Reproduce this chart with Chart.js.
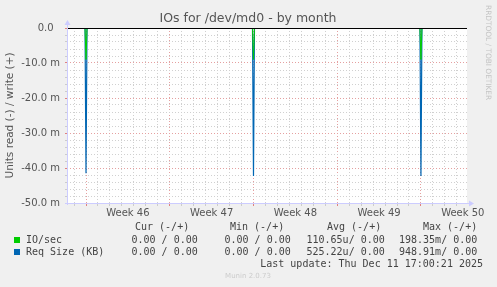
<!DOCTYPE html>
<html>
<head>
<meta charset="utf-8">
<script src="https://cdn.jsdelivr.net/npm/chart.js@4/dist/chart.umd.min.js"></script>
<style>
  html, body { margin: 0; padding: 0; background: #f0f0f0; }
  #wrap { width: 497px; height: 287px; }
</style>
</head>
<body>
<div id="wrap"><canvas id="io-chart" width="497" height="287"></canvas></div>
<script>
// x in days, 0 = start of week 46
const X_MIN = -1.59;
const X_MAX = 31.85;
const weekStarts = [0, 7, 14, 21, 28];
const weekLabels = ["Week 46", "Week 47", "Week 48", "Week 49", "Week 50"];
const SAMPLE = 1 / 12; // 2h step of the month graph

// read spikes (negative side), in milli-units
const spikeDays = [0, 14, 28];
const ioRead = [-9.0, -9.0, -9.0];
const reqRead = [-41.5, -42.3, -42.3];

const legendRows = [
  { label: "IO/sec", color: "#00cc00", cur: "0.00 / 0.00", min: "0.00 / 0.00", avg: "110.65u/ 0.00", max: "198.35m/ 0.00" },
  { label: "Req Size (KB)", color: "#0066b3", cur: "0.00 / 0.00", min: "0.00 / 0.00", avg: "525.22u/ 0.00", max: "948.91m/ 0.00" },
];
const lastUpdate = "Last update: Thu Dec 11 17:00:21 2025";

function spikeSeries(values) {
  const pts = [{ x: X_MIN, y: 0 }];
  spikeDays.forEach((d, i) => {
    pts.push({ x: d - SAMPLE, y: 0 });
    pts.push({ x: d, y: values[i] });
    pts.push({ x: d + SAMPLE, y: 0 });
  });
  pts.push({ x: X_MAX, y: 0 });
  return pts;
}

const MONO = "10px 'DejaVu Sans Mono'";
const SANS = "'DejaVu Sans'";

const munin = {
  id: "munin",
  beforeDraw(chart) {
    const { ctx, chartArea: a } = chart;
    ctx.save();
    ctx.fillStyle = "#f0f0f0";
    ctx.fillRect(0, 0, chart.width, chart.height);
    ctx.fillStyle = "#ffffff";
    ctx.fillRect(a.left, a.top, a.right - a.left, a.bottom - a.top);
    ctx.restore();
  },
  afterDatasetsDraw(chart) {
    const { ctx, chartArea: a, scales } = chart;
    ctx.save();
    // zero line
    const y0 = Math.round(scales.y.getPixelForValue(0)) + 0.5;
    ctx.strokeStyle = "#000000";
    ctx.lineWidth = 1;
    ctx.beginPath();
    ctx.moveTo(a.left, y0);
    ctx.lineTo(a.right, y0);
    ctx.stroke();
    // axis lines + arrows
    ctx.strokeStyle = "#ccccff";
    ctx.fillStyle = "#ccccff";
    ctx.beginPath();
    ctx.moveTo(a.left + 0.5, a.bottom + 2);
    ctx.lineTo(a.left + 0.5, a.top - 4);
    ctx.moveTo(a.left - 2, a.bottom + 0.5);
    ctx.lineTo(a.right + 3, a.bottom + 0.5);
    ctx.stroke();
    ctx.beginPath();
    ctx.moveTo(a.left - 2.5, a.top - 3);
    ctx.lineTo(a.left + 3.5, a.top - 3);
    ctx.lineTo(a.left + 0.5, a.top - 8);
    ctx.closePath();
    ctx.fill();
    ctx.beginPath();
    ctx.moveTo(a.right + 2, a.bottom - 2.5);
    ctx.lineTo(a.right + 2, a.bottom + 3.5);
    ctx.lineTo(a.right + 7, a.bottom + 0.5);
    ctx.closePath();
    ctx.fill();
    ctx.restore();
  },
  afterDraw(chart) {
    const { ctx } = chart;
    ctx.save();
    // title
    ctx.fillStyle = "#555555";
    ctx.font = `12.5px ${SANS}`;
    ctx.textAlign = "center";
    ctx.textBaseline = "middle";
    ctx.fillText("IOs for /dev/md0 - by month", 248, 19);
    // rrdtool credit
    ctx.save();
    ctx.translate(488, 5);
    ctx.rotate(Math.PI / 2);
    ctx.fillStyle = "#c4c4c4";
    ctx.font = `7.4px ${SANS}`;
    ctx.textAlign = "left";
    ctx.fillText("RRDTOOL / TOBI OETIKER", 0, 0);
    ctx.restore();
    // legend
    ctx.font = MONO;
    ctx.textAlign = "left";
    ctx.fillStyle = "#444444";
    ctx.fillText("Cur (-/+)", 135, 227);
    ctx.fillText("Min (-/+)", 230, 227);
    ctx.fillText("Avg (-/+)", 327, 227);
    ctx.fillText("Max (-/+)", 423, 227);
    legendRows.forEach((r, i) => {
      const y = 240 + i * 12;
      ctx.fillStyle = r.color;
      ctx.fillRect(14, y - 3, 6, 6);
      ctx.fillStyle = "#444444";
      ctx.fillText(r.label, 26, y);
      ctx.fillText(r.cur, 131.5, y);
      ctx.fillText(r.min, 224.5, y);
      ctx.fillText(r.avg, 306.5, y);
      ctx.fillText(r.max, 399, y);
    });
    ctx.textAlign = "right";
    ctx.fillText(lastUpdate, 483, 264);
    ctx.textAlign = "center";
    ctx.fillStyle = "#cccccc";
    ctx.font = `7px ${SANS}`;
    ctx.fillText("Munin 2.0.73", 248, 276);
    ctx.restore();
  },
};

const isWeek = (v) => Math.abs(v / 7 - Math.round(v / 7)) < 1e-6;
const isDay = (v) => Math.abs(v - Math.round(v)) < 1e-6;
const isMajorY = (v) => Math.abs(v / 10 - Math.round(v / 10)) < 1e-6;

new Chart(document.getElementById("io-chart"), {
  type: "line",
  data: {
    datasets: [
      { label: "IO/sec", data: spikeSeries(ioRead), borderColor: "#00cc00", borderWidth: 1, pointRadius: 0, tension: 0 },
      { label: "Req Size (KB)", data: spikeSeries(reqRead), borderColor: "#0066b3", borderWidth: 1.2, pointRadius: 0, tension: 0 },
    ],
  },
  options: {
    responsive: false,
    devicePixelRatio: 1,
    animation: false,
    layout: { padding: { left: 0, right: 30, top: 28, bottom: 68 } },
    plugins: { legend: { display: false }, tooltip: { enabled: false }, title: { display: false } },
    scales: {
      x: {
        type: "linear",
        min: X_MIN,
        max: X_MAX,
        afterFit: (s) => { s.height = 16; s.paddingLeft = 0; s.paddingRight = 0; },
        afterBuildTicks: (s) => {
          const ticks = [];
          for (let d = Math.ceil(X_MIN); d <= Math.floor(X_MAX); d++) ticks.push({ value: d });
          weekStarts.forEach((w) => { if (w + 3.5 < X_MAX) ticks.push({ value: w + 3.5 }); });
          ticks.sort((p, q) => p.value - q.value);
          s.ticks = ticks;
        },
        ticks: {
          autoSkip: false,
          maxRotation: 0,
          padding: 1,
          color: "#555555",
          font: { family: "DejaVu Sans", size: 10 },
          callback: (v) => {
            if (isDay(v)) return "";
            const i = weekStarts.indexOf(Math.round(v - 3.5));
            return i >= 0 ? weekLabels[i] : "";
          },
        },
        grid: {
          color: (c) => {
            const v = c.tick ? c.tick.value : 0;
            if (!isDay(v)) return "rgba(0,0,0,0)";
            return isWeek(v) ? "#e5a0a0" : "#d0d0d0";
          },
          tickColor: (c) => {
            const v = c.tick ? c.tick.value : 0;
            if (!isDay(v)) return "rgba(0,0,0,0)";
            return isWeek(v) ? "#e08080" : "#cccccc";
          },
          tickLength: 3,
          lineWidth: 1,
        },
        border: { display: false, dash: [1, 2] },
      },
      y: {
        min: -50,
        max: 0,
        afterFit: (s) => { s.width = 67; },
        afterBuildTicks: (s) => {
          const ticks = [];
          for (let v = -50; v <= 0; v += 2) ticks.push({ value: v });
          s.ticks = ticks;
        },
        ticks: {
          autoSkip: false,
          padding: 5,
          color: "#555555",
          font: { family: "DejaVu Sans", size: 10 },
          callback: (v) => {
            if (!isMajorY(v)) return "";
            return v === 0 ? "0.0  " : `${v.toFixed(1)} m`;
          },
        },
        grid: {
          color: (c) => {
            const v = c.tick ? c.tick.value : 0;
            return isMajorY(v) ? "#e5a0a0" : "#d0d0d0";
          },
          tickColor: (c) => {
            const v = c.tick ? c.tick.value : 0;
            return isMajorY(v) ? "#e08080" : "#cccccc";
          },
          tickLength: 2,
          lineWidth: 1,
        },
        border: { display: false, dash: [1, 2] },
        title: {
          display: true,
          text: "Units read (-) / write (+)",
          color: "#555555",
          font: { family: "DejaVu Sans", size: 10.5 },
          padding: { top: 4, bottom: 4 },
        },
      },
    },
  },
  plugins: [munin],
});
</script>
</body>
</html>
